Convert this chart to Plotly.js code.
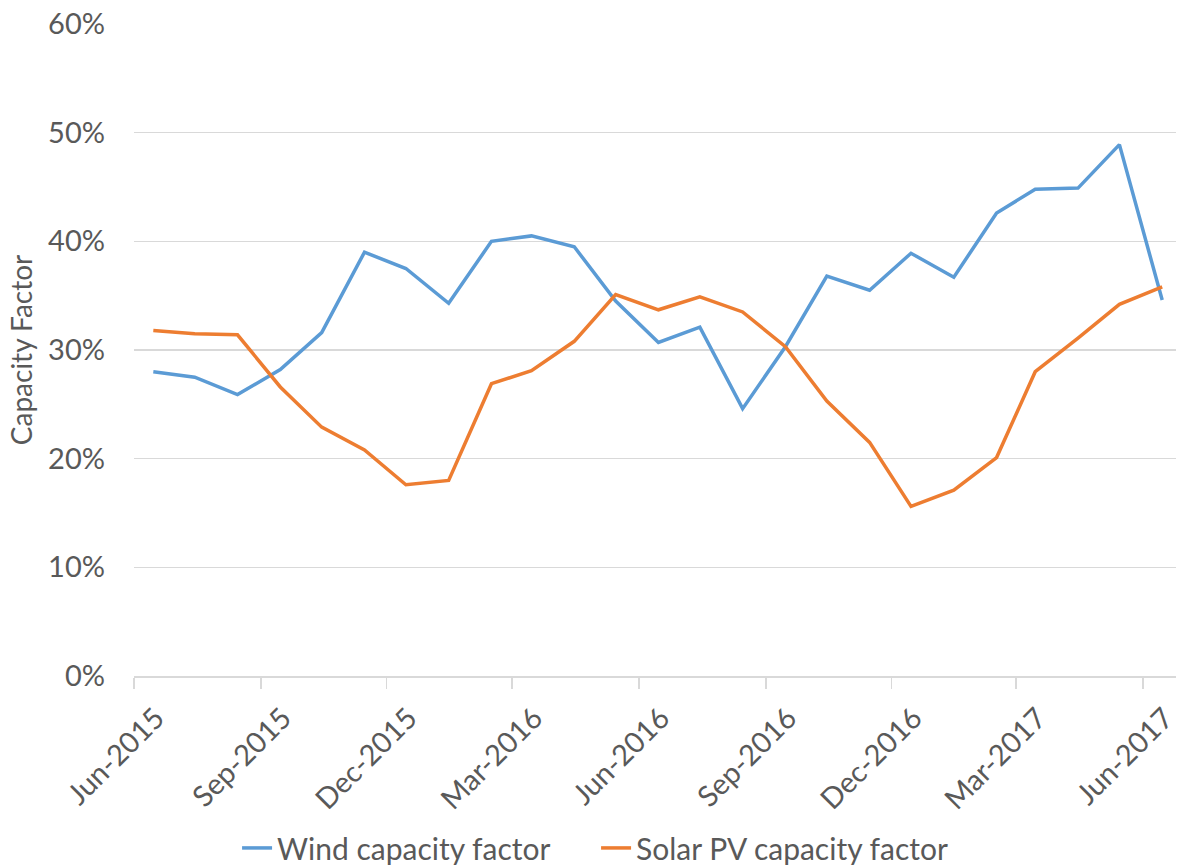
<!DOCTYPE html>
<html>
<head>
<meta charset="utf-8">
<script src="https://cdn.plot.ly/plotly-3.0.1.min.js"></script>
<style>html,body{margin:0;padding:0;background:#fff;}#chart{width:1178px;height:867px;}</style>
</head>
<body>
<div id="chart"></div>
<script>
const months = ['2015-06-15','2015-07-15','2015-08-15','2015-09-15','2015-10-15','2015-11-15','2015-12-15',
  '2016-01-15','2016-02-15','2016-03-15','2016-04-15','2016-05-15','2016-06-15','2016-07-15','2016-08-15',
  '2016-09-15','2016-10-15','2016-11-15','2016-12-15','2017-01-15','2017-02-15','2017-03-15','2017-04-15',
  '2017-05-15','2017-06-15'];
const windCF = [0.280,0.275,0.259,0.282,0.316,0.390,0.375,0.343,0.400,0.405,0.395,0.345,0.307,0.321,0.246,
  0.303,0.368,0.355,0.389,0.367,0.426,0.448,0.449,0.489,0.346];
const solarCF = [0.318,0.315,0.314,0.266,0.229,0.208,0.176,0.180,0.269,0.281,0.308,0.351,0.337,0.349,0.335,
  0.303,0.253,0.215,0.156,0.171,0.201,0.280,0.311,0.342,0.358];
const seriesNames = ['Wind capacity factor','Solar PV capacity factor'];
const yTitle = 'Capacity Factor';

const FONT = 'Lato, "Open Sans", sans-serif';
const TXT = '#595959';

const data = [
  {x: months, y: windCF, name: seriesNames[0], type: 'scatter', mode: 'lines',
   line: {color: '#5B9BD5', width: 3.5}},
  {x: months, y: solarCF, name: seriesNames[1], type: 'scatter', mode: 'lines',
   line: {color: '#ED7D31', width: 3.5}}
];

const layout = {
  width: 1178, height: 867,
  margin: {l: 134, r: 2, t: 24, b: 191},
  paper_bgcolor: '#ffffff', plot_bgcolor: '#ffffff',
  font: {family: FONT, color: TXT, size: 29},
  showlegend: true,
  legend: {orientation: 'h', xref: 'container', yref: 'container', x: 0.506, y: 0.022,
           xanchor: 'center', yanchor: 'middle', font: {size: 30, color: TXT},
           entrywidth: 314, entrywidthmode: 'pixels'},
  xaxis: {
    type: 'date', range: ['2015-06-01', '2017-06-25'],
    tick0: '2015-06-01', dtick: 'M3', tickformat: '%b-%Y', tickangle: -45,
    showgrid: false, showline: true, linecolor: '#d9d9d9', linewidth: 1.5,
    ticks: 'outside', ticklen: 11, tickcolor: '#d9d9d9', tickwidth: 1.5,
    ticklabelshift: 22, ticklabelstandoff: 1, ticklabeloverflow: 'allow',
    tickfont: {size: 29, color: TXT}, zeroline: false, fixedrange: true
  },
  yaxis: {
    range: [0, 0.6], dtick: 0.1, tickformat: '.0%',
    showgrid: true, gridcolor: '#d9d9d9', gridwidth: 1.5,
    zeroline: false, showline: false, ticks: '', ticklabelstandoff: 28,
    tickfont: {size: 29, color: TXT},
    title: {text: yTitle, font: {size: 28, color: TXT}, standoff: 7},
    fixedrange: true
  }
};

Plotly.newPlot('chart', data, layout, {displayModeBar: false, staticPlot: true});
</script>
</body>
</html>
